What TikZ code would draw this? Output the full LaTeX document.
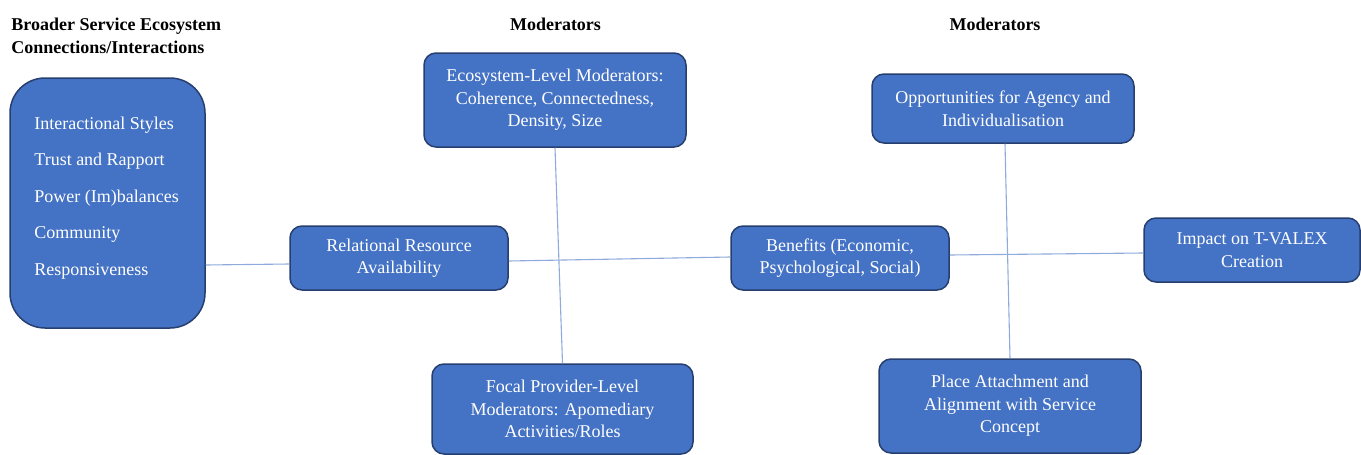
\documentclass[tikz,border=0pt]{standalone}
\usepackage{fontspec}
\setmainfont{Liberation Serif}
\begin{document}
\begin{tikzpicture}[x=0.5pt,y=-0.5pt,
  box/.style={draw=boxline,fill=boxfill,line width=0.75pt,rounded corners=6pt,
    text=white,align=center,inner sep=0pt,
    font=\fontsize{9}{11.25}\selectfont},
  link/.style={draw=linkblue,line width=0.55pt},
  heading/.style={font=\fontsize{9}{11.5}\selectfont\bfseries,inner sep=0pt}]
\definecolor{boxfill}{HTML}{4472C4}
\definecolor{boxline}{HTML}{263F6E}
\definecolor{linkblue}{HTML}{8FAADC}
\useasboundingbox (0,0) rectangle (1361,455);

% column headings
\node[heading,anchor=west,align=left] (hleft) at (11,35.5)
  {Broader Service Ecosystem\\Connections/Interactions};
\node[heading] (hmid) at (555.5,24) {Moderators};
\node[heading] (hright) at (995,24) {Moderators};

% ecosystem connections box with its list
\node[box,rounded corners=17.5pt,minimum width=97.5pt,minimum height=125pt] (eco) at (107.5,203) {};
\node[anchor=west,align=left,text=white,inner sep=0pt,
  font=\fontsize{9}{18.25}\selectfont] (ecolist) at (34,198)
  {Interactional Styles\\Trust and Rapport\\Power (Im)balances\\Community\\Responsiveness};

% main chain
\node[box,minimum width=109pt,minimum height=32pt] (rel) at (399,258)
  {Relational Resource\\Availability};
\node[box,minimum width=109pt,minimum height=32pt] (ben) at (840,258)
  {Benefits (Economic,\\Psychological, Social)};
\node[box,minimum width=108pt,minimum height=32pt] (imp) at (1252,250)
  {Impact on T-VALEX\\Creation};

% moderators
\node[box,minimum width=131pt,minimum height=47pt] (ecolvl) at (555,100)
  {Ecosystem-Level Moderators:\\Coherence, Connectedness,\\Density, Size};
\node[box,minimum width=130.5pt,minimum height=45pt] (focal) at (562.5,409)
  {Focal Provider-Level\\Moderators: Apomediary\\Activities/Roles};
\node[box,minimum width=131pt,minimum height=34.5pt] (opp) at (1003,108.5)
  {Opportunities for Agency and\\Individualisation};
\node[box,minimum width=131pt,minimum height=47pt] (place) at (1010,406)
  {Place Attachment and\\Alignment with Service\\Concept};

% connectors
\draw[link] ([yshift=-3.5pt]eco.east |- rel.west) -- ([yshift=-3pt]rel.west);
\draw[link] ([yshift=-1.5pt]rel.east) -- ([yshift=0.5pt]ben.west);
\draw[link] ([yshift=1.5pt]ben.east) -- ([yshift=-1.5pt]imp.west);
\draw[link] (ecolvl.south) -- (focal.north);
\draw[link] ([xshift=1pt]opp.south) -- (place.north);
\end{tikzpicture}
\end{document}
